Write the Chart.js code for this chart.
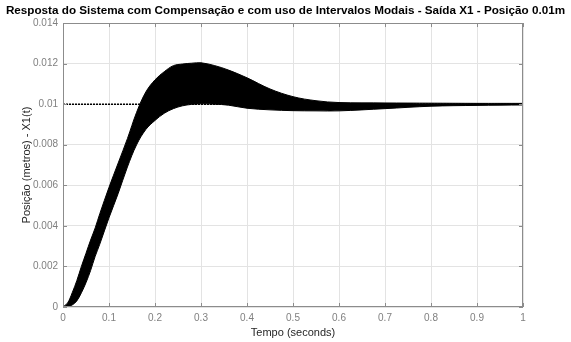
<!DOCTYPE html>
<html>
<head>
<meta charset="utf-8">
<script src="https://cdn.jsdelivr.net/npm/chart.js@4.4.1/dist/chart.umd.min.js"></script>
<style>
  html, body { margin: 0; padding: 0; background: #fff; }
  canvas { display: block; }
</style>
</head>
<body>
<canvas id="stepChart" width="571" height="342"></canvas>
<script>
// time samples (s)
const timeSec = [0, 0.01, 0.02, 0.03, 0.04, 0.05, 0.06, 0.07, 0.08, 0.1, 0.12, 0.14, 0.16, 0.18, 0.2,
  0.22, 0.24, 0.26, 0.28, 0.3, 0.33, 0.36, 0.4, 0.45, 0.5, 0.55, 0.6, 0.7, 0.8, 0.9, 1.0];
// fastest / highest overshoot response (top edge of the band)
const upperResp = [0, 0.0002, 0.0007, 0.0013, 0.0020, 0.00265, 0.0033, 0.0039, 0.0046, 0.0059, 0.0071,
  0.0083, 0.0096, 0.0106, 0.0112, 0.0116, 0.0119, 0.01198, 0.01202, 0.01204, 0.0119, 0.01168, 0.0113,
  0.01075, 0.01037, 0.01017, 0.01008, 0.01006, 0.01005, 0.01004, 0.01004];
// slowest / lowest response (bottom edge of the band)
const lowerResp = [0, 0.00003, 0.0001, 0.0003, 0.0007, 0.0012, 0.0018, 0.0025, 0.0031, 0.0044, 0.0056,
  0.0069, 0.0080, 0.00875, 0.0092, 0.00955, 0.00978, 0.00992, 0.00999, 0.01002, 0.01, 0.00995, 0.0098,
  0.00972, 0.00968, 0.00967, 0.00967, 0.00978, 0.0099, 0.00994, 0.00996];
// steady state reference
const refTime = [0, 1];
const refValue = [0.01, 0.01];

const xTicks = [0, 0.1, 0.2, 0.3, 0.4, 0.5, 0.6, 0.7, 0.8, 0.9, 1];
const yTicks = [0, 0.002, 0.004, 0.006, 0.008, 0.01, 0.012, 0.014];

const toPts = (xs, ys) => xs.map((x, i) => ({ x: x, y: ys[i] }));
const fmt = v => String(Number(v.toFixed(4)));

// box around the axes with inward tick marks, like matlab
const axesBox = {
  id: 'axesBox',
  afterDatasetsDraw(chart) {
    const { ctx, chartArea: a, scales: { x, y } } = chart;
    ctx.save();
    ctx.strokeStyle = '#8c8c8c';
    ctx.lineWidth = 1;
    ctx.beginPath();
    x.ticks.forEach(t => {
      const px = Math.round(x.getPixelForValue(t.value)) + 0.5;
      ctx.moveTo(px, a.bottom); ctx.lineTo(px, a.bottom - 4);
      ctx.moveTo(px, a.top); ctx.lineTo(px, a.top + 4);
    });
    y.ticks.forEach(t => {
      const py = Math.round(y.getPixelForValue(t.value)) + 0.5;
      ctx.moveTo(a.left, py); ctx.lineTo(a.left + 4, py);
      ctx.moveTo(a.right, py); ctx.lineTo(a.right - 4, py);
    });
    ctx.stroke();
    ctx.strokeRect(Math.round(a.left) + 0.5, Math.round(a.top) + 0.5,
      Math.round(a.width) - 1, Math.round(a.height) - 1);
    ctx.restore();
  }
};

const lineStyle = { borderColor: '#000', borderWidth: 1, pointRadius: 0, tension: 0.35 };

const ctx = document.getElementById('stepChart').getContext('2d');
new Chart(ctx, {
  type: 'line',
  data: {
    datasets: [
      { ...lineStyle, label: 'upper', data: toPts(timeSec, upperResp), fill: false },
      { ...lineStyle, label: 'lower', data: toPts(timeSec, lowerResp), backgroundColor: '#000', fill: '-1' },
      {
        label: 'ref',
        data: toPts(refTime, refValue),
        borderColor: '#000',
        borderWidth: 1.5,
        borderDash: [2, 1],
        pointRadius: 0,
        fill: false
      }
    ]
  },
  plugins: [axesBox],
  options: {
    responsive: false,
    animation: false,
    devicePixelRatio: 1,
    layout: { padding: 0 },
    plugins: {
      legend: { display: false },
      tooltip: { enabled: false },
      title: {
        display: true,
        text: 'Resposta do Sistema com Compensação e com uso de Intervalos Modais - Saída X1 - Posição 0.01m',
        color: '#000',
        font: { family: 'Liberation Sans', size: 11.7, weight: 'bold' },
        padding: { top: 4, bottom: 5 }
      }
    },
    scales: {
      x: {
        type: 'linear',
        min: 0,
        max: 1,
        afterBuildTicks: s => { s.ticks = xTicks.map(v => ({ value: v })); },
        afterFit: s => { s.height = 35; },
        grid: { color: '#e3e3e3', drawTicks: false },
        border: { display: false },
        ticks: {
          padding: 5,
          color: '#808080',
          font: { family: 'Liberation Sans', size: 10 },
          maxRotation: 0,
          callback: v => fmt(v)
        },
        title: {
          display: true,
          text: 'Tempo (seconds)',
          color: '#262626',
          font: { family: 'Liberation Sans', size: 11 },
          padding: { top: 0, bottom: 2 }
        }
      },
      y: {
        type: 'linear',
        min: 0,
        max: 0.014,
        afterBuildTicks: s => { s.ticks = yTicks.map(v => ({ value: v })); },
        afterFit: s => { s.width = 63; },
        grid: { color: '#e3e3e3', drawTicks: false },
        border: { display: false },
        ticks: {
          padding: 5,
          color: '#808080',
          font: { family: 'Liberation Sans', size: 10 },
          callback: v => fmt(v)
        },
        title: {
          display: true,
          text: 'Posição (metros) - X1(t)',
          color: '#262626',
          font: { family: 'Liberation Sans', size: 11 },
          padding: { top: 20, bottom: 0 }
        }
      },
      // empty right-hand spacer so the title stays centred on the page
      spacer: {
        type: 'linear',
        position: 'right',
        afterFit: s => { s.width = 48; },
        grid: { display: false },
        border: { display: false },
        ticks: { display: false }
      }
    }
  }
});
</script>
</body>
</html>
